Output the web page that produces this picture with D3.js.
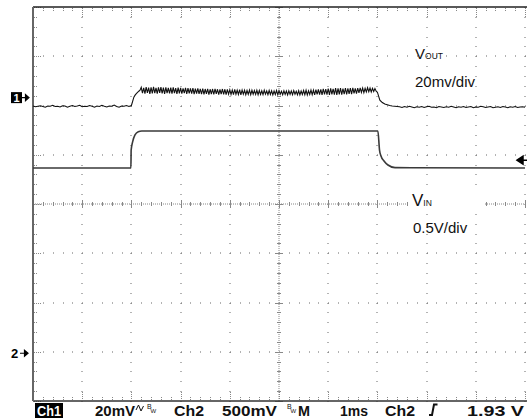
<!DOCTYPE html>
<html>
<head>
<meta charset="utf-8">
<script src="https://cdn.jsdelivr.net/npm/d3@7"></script>
<style>
  body { margin: 0; background: #fff; }
  svg { display: block; }
</style>
</head>
<body>
<svg id="scope" width="527" height="418"></svg>
<script>
// Scope settings
const timeDomain = [-5, 5];      // ms, 1 ms/div
const divDomain = [-4, 4];       // vertical divisions
const ch1PerDiv = 20;            // mV/div
const ch1Offset = 2.16;          // div, ch1 ground marker
const ch2PerDiv = 0.5;           // V/div
const ch2Offset = -3.03;         // div, ch2 ground marker
const triggerArrowLevel = 1.96;  // V on ch2

// Ch1 (VOUT, mV)
const ch1Before = [   // from -5.00 ms, every 0.05 ms
  -3.4, -3.7, -3.5, -3.3, -3.6, -3.9, -3.4, -3.5, -3.1, -3.6,
  -3.5, -3.8, -3.3, -3.4, -3.9, -3.5, -3.2, -3.6, -3.4, -3.1,
  -3.7, -3.5, -3.6, -3.2, -3.5, -3.9, -3.4, -3.6, -3.1, -3.5,
  -3.8, -3.4, -3.5, -3.0, -3.6, -3.9, -3.4, -3.5, -3.2, -3.6
];
const ch1Pulse = [    // from -3.00 ms, every 0.025 ms
  -3.2, -1.5, 0.2, 1.0, 1.6, 2.1, 2.6, 3.0,
  4.2, 1.8, 4.0, 1.6, 4.3, 1.9, 4.1, 1.5, 4.2, 1.7, 4.4, 1.8, 4.0, 1.6, 4.2, 1.9, 4.3, 1.7, 4.1, 1.5, 4.2, 1.8, 4.0, 1.7,
  4.1, 1.6, 4.2, 1.8, 3.9, 1.5, 4.1, 1.7, 4.0, 1.6, 3.8, 1.8, 4.0, 1.5, 3.9, 1.7, 3.8, 1.6, 3.9, 1.4, 3.7, 1.6, 3.8, 1.5,
  3.6, 1.4, 3.7, 1.3, 3.5, 1.5, 3.6, 1.2, 3.4, 1.4, 3.5, 1.3, 3.6, 1.5, 3.4, 1.2, 3.3, 1.4, 3.5, 1.3, 3.4, 1.2, 3.3, 1.4,
  3.2, 1.3, 3.1, 1.2, 3.3, 1.4, 3.0, 1.3, 3.2, 1.1, 3.1, 1.4, 3.0, 1.2, 2.9, 1.3, 3.1, 1.2, 3.0, 1.4, 2.9, 1.3, 3.0, 1.2,
  2.9, 1.3, 2.8, 1.2, 3.0, 1.4, 2.7, 1.2, 2.9, 1.3, 2.8, 1.1, 2.7, 1.3, 2.9, 1.2, 2.8, 1.4, 2.6, 1.2, 2.8, 1.3, 2.7, 1.1,
  2.8, 1.3, 2.7, 1.2, 2.9, 1.4, 2.6, 1.2, 2.8, 1.1, 2.7, 1.3, 2.9, 1.2, 3.0, 1.1, 2.8, 1.3, 3.1, 1.2, 3.0, 1.1, 3.2, 1.3,
  3.3, 1.2, 3.4, 1.1, 3.6, 1.3, 3.5, 1.2, 3.7, 1.1, 3.8, 1.3, 3.6, 1.2, 3.9, 1.1, 3.8, 1.3, 3.9, 1.2, 3.7, 1.4, 3.9, 1.3,
  3.8, 1.5, 3.9, 1.4, 4.0, 1.7, 3.8, 1.6, 3.9, 1.9, 4.0, 2.1, 3.9, 2.0, 3.8, 2.3, 4.0, 2.4, 3.9, 2.3, 3.8, 2.5, 3.7, 2.6
];
const ch1After = [    // from 2.00 ms, every 0.05 ms
  2.2, -1.0, -2.0, -2.6, -2.9, -3.2, -3.4, -3.5, -3.6,
  -3.7, -4.0, -3.6, -3.9, -3.5, -3.8, -4.1, -3.7, -3.9, -3.6,
  -4.0, -3.7, -3.5, -3.9, -3.8, -4.1, -3.6, -3.8, -4.0, -3.7,
  -3.9, -3.5, -3.8, -4.1, -3.7, -3.9, -3.6, -4.0, -3.8, -3.6,
  -4.1, -3.8, -3.9, -3.5, -3.7, -4.0, -3.8, -3.6, -4.1, -3.9,
  -3.7, -4.0, -3.6, -3.8, -4.1, -3.7, -3.9, -3.6, -4.0, -3.8,
  -3.7, -3.9
];
const ch1Segments = [
  { start: -5, step: 0.05, values: ch1Before },
  { start: -3, step: 0.025, values: ch1Pulse },
  { start: 2, step: 0.05, values: ch1After }
];

// Ch2 (VIN, V) corner points [ms, V]
const ch2Points = [
  [-5, 1.880], [-3.01, 1.880], [-3.005, 2.063], [-2.974, 2.148], [-2.927, 2.216],
  [-2.860, 2.249], [-2.79, 2.256], [2.01, 2.256], [2.043, 2.063], [2.073, 2.002],
  [2.134, 1.952], [2.215, 1.911], [2.358, 1.884], [5, 1.880]
];

// Status line
const statusItems = [
  { text: "20mV", x: 95, w: 40 },
  { text: "Ch2", x: 174, w: 30 },
  { text: "500mV", x: 222, w: 55 },
  { text: "M", x: 298, w: 12 },
  { text: "1ms", x: 340, w: 28 },
  { text: "Ch2", x: 385, w: 30 },
  { text: "1.93 V", x: 467, w: 57 }
];

const svg = d3.select("#scope");
const font = "'Liberation Sans', Arial, sans-serif";

const x = d3.scaleLinear().domain(timeDomain).range([33, 525]);
const y = d3.scaleLinear().domain(divDomain).range([401, 7]);
const yCh1 = v => y(v / ch1PerDiv + ch1Offset);
const yCh2 = v => y(v / ch2PerDiv + ch2Offset);

const minorX = d3.range(-25, 26).map(i => i / 5);
const minorY = d3.range(-20, 21).map(i => i / 5);
const majorX = [-4, -3, -2, -1, 1, 2, 3, 4, 5];
const majorY = [-3, -2, -1, 1, 2, 3];

// Graticule dots
const grid = svg.append("g").attr("fill", "#666");
majorX.forEach(mx => {
  grid.selectAll(null).data(minorY).enter().append("rect")
    .attr("x", Math.round(x(mx)) - 0.5).attr("y", d => Math.round(y(d)))
    .attr("width", 1).attr("height", 1);
});
majorY.forEach(my => {
  grid.selectAll(null).data(minorX).enter().append("rect")
    .attr("x", d => Math.round(x(d))).attr("y", Math.round(y(my)) - 0.5)
    .attr("width", 1).attr("height", 1);
});

// Center cross with ticks
const center = svg.append("g").attr("stroke", "#888").attr("stroke-width", 1);
center.append("line")
  .attr("x1", x(-5)).attr("x2", x(5)).attr("y1", y(0)).attr("y2", y(0))
  .attr("stroke-dasharray", "1,1");
center.append("line")
  .attr("x1", x(0)).attr("x2", x(0)).attr("y1", y(-4)).attr("y2", y(4))
  .attr("stroke-dasharray", "1,1");
center.selectAll(".tx").data(minorX).enter().append("line")
  .attr("x1", d => Math.round(x(d)) + 0.5).attr("x2", d => Math.round(x(d)) + 0.5)
  .attr("y1", d => y(0) - (Number.isInteger(d) ? 4 : 2))
  .attr("y2", d => y(0) + (Number.isInteger(d) ? 4 : 2));
center.selectAll(".ty").data(minorY).enter().append("line")
  .attr("y1", d => Math.round(y(d)) + 0.5).attr("y2", d => Math.round(y(d)) + 0.5)
  .attr("x1", d => x(0) - (Number.isInteger(d) ? 4 : 2))
  .attr("x2", d => x(0) + (Number.isInteger(d) ? 4 : 2));

// Border ticks
const edge = svg.append("g").attr("stroke", "#888").attr("stroke-width", 1);
edge.selectAll(".lt").data(minorY).enter().append("line")
  .attr("x1", 34).attr("x2", d => Number.isInteger(d) ? 41 : 37)
  .attr("y1", d => Math.round(y(d)) + 0.5).attr("y2", d => Math.round(y(d)) + 0.5)
  .attr("stroke-dasharray", "1,1");
edge.selectAll(".tt").data(minorX).enter().append("line")
  .attr("x1", d => Math.round(x(d)) + 0.5).attr("x2", d => Math.round(x(d)) + 0.5)
  .attr("y1", 8).attr("y2", d => Number.isInteger(d) ? 17 : 11)
  .attr("stroke-dasharray", "1,1");
edge.selectAll(".tb").data(minorX).enter().append("line")
  .attr("x1", d => Math.round(x(d)) + 0.5).attr("x2", d => Math.round(x(d)) + 0.5)
  .attr("y1", d => Number.isInteger(d) ? 392 : 397).attr("y2", 400)
  .attr("stroke-dasharray", "1,1");

// Frame
svg.append("line").attr("x1", x(-5)).attr("x2", 527).attr("y1", y(4)).attr("y2", y(4))
  .attr("stroke", "#222").attr("stroke-width", 1.5);
svg.append("line").attr("x1", x(-5)).attr("x2", 527).attr("y1", y(-4)).attr("y2", y(-4))
  .attr("stroke", "#333").attr("stroke-width", 1.5);
svg.append("line").attr("x1", x(-5)).attr("x2", x(-5)).attr("y1", y(4)).attr("y2", y(-4))
  .attr("stroke", "#666").attr("stroke-width", 2);

// VIN label background
svg.append("rect").attr("x", 408).attr("y", 190).attr("width", 76).attr("height", 24).attr("fill", "#fff");

// Traces
const ch1Data = ch1Segments.flatMap(s => s.values.map((v, i) => [s.start + i * s.step, v]));
svg.append("path")
  .attr("d", d3.line().x(d => x(d[0])).y(d => yCh1(d[1]))(ch1Data))
  .attr("fill", "none").attr("stroke", "#111").attr("stroke-width", 1.1);

svg.append("path")
  .attr("d", d3.line().curve(d3.curveMonotoneX).x(d => x(d[0])).y(d => yCh2(d[1]))(ch2Points))
  .attr("fill", "none").attr("stroke", "#3a3a3a").attr("stroke-width", 1.6);

// Labels
const vout = svg.append("text").attr("x", 415).attr("y", 58.5).attr("font-family", font).attr("fill", "#111");
vout.append("tspan").attr("font-size", 15).text("V");
vout.append("tspan").attr("font-size", 8.5).text("OUT");
svg.append("text").attr("x", 415).attr("y", 87).attr("font-family", font).attr("font-size", 15)
  .attr("fill", "#111").text("20mv/div");
const vin = svg.append("text").attr("x", 412).attr("y", 206).attr("font-family", font).attr("fill", "#111");
vin.append("tspan").attr("font-size", 17).text("V");
vin.append("tspan").attr("font-size", 8.5).text("IN");
svg.append("text").attr("x", 413).attr("y", 233).attr("font-family", font).attr("font-size", 15)
  .attr("fill", "#111").text("0.5V/div");

// Channel markers
const m1 = yCh1(0);
svg.append("rect").attr("x", 11).attr("y", m1 - 5.5).attr("width", 11).attr("height", 11).attr("fill", "#000");
svg.append("text").attr("x", 16.5).attr("y", m1 + 4).attr("text-anchor", "middle")
  .attr("font-family", font).attr("font-weight", "bold").attr("font-size", 11).attr("fill", "#fff").text("1");
svg.append("path").attr("d", `M22,${m1} H26 M29,${m1} L25.5,${m1 - 3} L25.5,${m1 + 3} Z`)
  .attr("stroke", "#000").attr("stroke-width", 1.2).attr("fill", "#000");

const m2 = yCh2(0);
svg.append("text").attr("x", 11).attr("y", m2 + 4.5)
  .attr("font-family", font).attr("font-weight", "bold").attr("font-size", 13).attr("fill", "#000").text("2");
svg.append("path").attr("d", `M20,${m2} H25 M28,${m2} L24.5,${m2 - 3} L24.5,${m2 + 3} Z`)
  .attr("stroke", "#000").attr("stroke-width", 1.2).attr("fill", "#000");

// Trigger level arrow
const tl = yCh2(triggerArrowLevel);
svg.append("path").attr("d", `M517,${tl} L523,${tl - 4} L523,${tl + 4} Z M522,${tl} H527`)
  .attr("fill", "#000").attr("stroke", "#000").attr("stroke-width", 1.5);

// Status line
svg.append("rect").attr("x", 35).attr("y", 403).attr("width", 28).attr("height", 15).attr("fill", "#000");
svg.append("text").attr("x", 37).attr("y", 416).attr("font-family", font).attr("font-weight", "bold")
  .attr("font-size", 15).attr("fill", "#fff").attr("textLength", 24).attr("lengthAdjust", "spacingAndGlyphs").text("Ch1");
svg.selectAll(".status").data(statusItems).enter().append("text")
  .attr("x", d => d.x).attr("y", 416)
  .attr("font-family", font).attr("font-weight", "bold").attr("font-size", 15).attr("fill", "#111")
  .attr("textLength", d => d.w).attr("lengthAdjust", "spacingAndGlyphs")
  .text(d => d.text);

// Small status glyphs: coupling wave, BW limit, trigger slope
svg.append("path").attr("d", "M136,410 L138.5,405 L141,411 L143.5,406")
  .attr("fill", "none").attr("stroke", "#111").attr("stroke-width", 1);
[[147, 408.5], [287, 408.5]].forEach(([bx, by]) => {
  svg.append("text").attr("x", bx).attr("y", by).attr("font-family", font).attr("font-size", 7)
    .attr("fill", "#111").text("B");
  svg.append("text").attr("x", bx + 3.5).attr("y", by + 4).attr("font-family", font).attr("font-size", 6)
    .attr("fill", "#111").text("W");
});
svg.append("path").attr("d", "M429,415 H432 L434,404.5 H437.5")
  .attr("fill", "none").attr("stroke", "#111").attr("stroke-width", 2);
</script>
</body>
</html>
